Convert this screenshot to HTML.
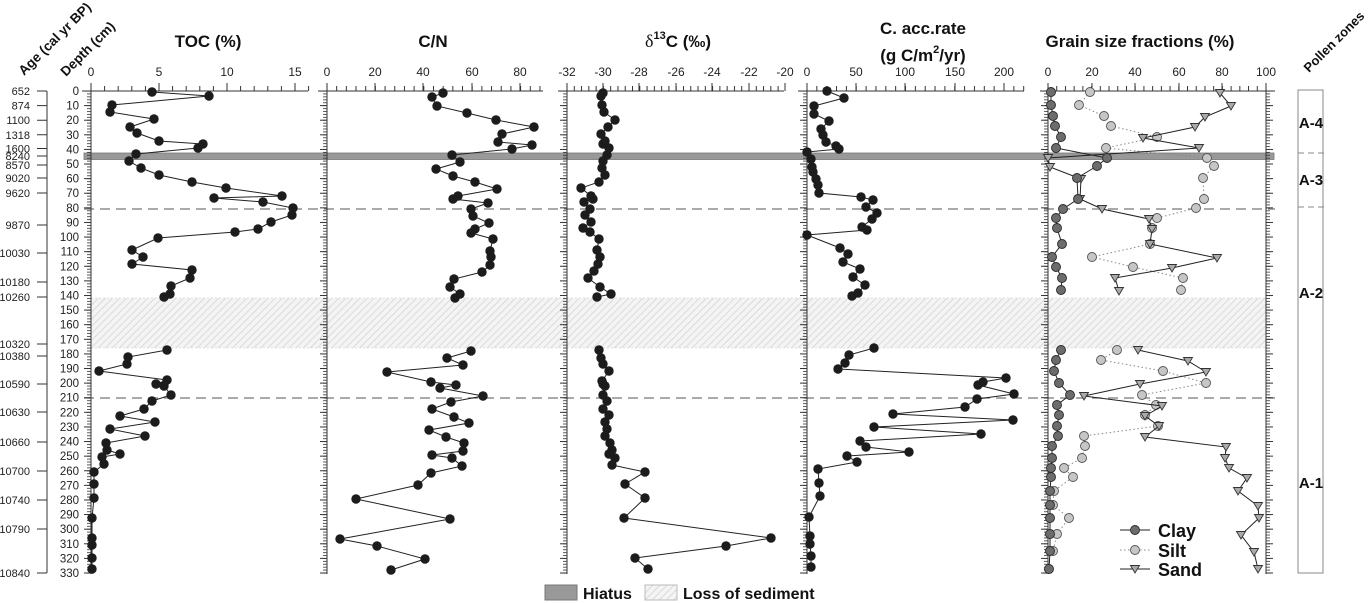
<!DOCTYPE html>
<html><head><meta charset="utf-8"><style>
html,body{margin:0;padding:0;background:#fff;}
svg{display:block;font-family:"Liberation Sans",Arial,sans-serif;}
.tl{font-size:12px;fill:#222;text-anchor:middle}
.dl{font-size:11.5px;fill:#222;text-anchor:end}
.al{font-size:11px;fill:#222;text-anchor:end}
.ti{font-size:17px;font-weight:bold;fill:#111;text-anchor:middle}
.ln{fill:none;stroke:#222;stroke-width:1}
</style></head><body>
<svg width="1371" height="603" viewBox="0 0 1371 603" xmlns="http://www.w3.org/2000/svg">
<defs>
<pattern id="lt" patternUnits="userSpaceOnUse" x="0" y="90.6" width="20" height="2.9212"><rect x="0" y="0" width="20" height="0.8" fill="#333"/></pattern>
<pattern id="ltM" patternUnits="userSpaceOnUse" x="0" y="90.5" width="20" height="14.606"><rect x="0" y="0" width="20" height="1" fill="#333"/></pattern>
<pattern id="hatch" patternUnits="userSpaceOnUse" width="5" height="5" patternTransform="rotate(45)"><rect width="5" height="5" fill="#f4f4f4"/><line x1="0" y1="0" x2="0" y2="5" stroke="#d0d0d0" stroke-width="1.4"/></pattern>
<pattern id="t1m" patternUnits="userSpaceOnUse" x="90.5" y="0" width="13.6" height="10"><rect width="1" height="10" fill="#333"/></pattern>
<pattern id="t2m" patternUnits="userSpaceOnUse" x="326.5" y="0" width="9.68" height="10"><rect width="1" height="10" fill="#333"/></pattern>
<pattern id="t3m" patternUnits="userSpaceOnUse" x="566.5" y="0" width="7.28" height="10"><rect width="1" height="10" fill="#333"/></pattern>
<pattern id="t4m" patternUnits="userSpaceOnUse" x="806.5" y="0" width="9.85" height="10"><rect width="1" height="10" fill="#333"/></pattern>
<pattern id="t5m" patternUnits="userSpaceOnUse" x="1047.5" y="0" width="8.72" height="10"><rect width="1" height="10" fill="#333"/></pattern>
<marker id="dk" markerUnits="userSpaceOnUse" markerWidth="12" markerHeight="12" refX="6" refY="6"><circle cx="6" cy="6" r="4.7" fill="#1c1c1c"/></marker>
<marker id="cl" markerUnits="userSpaceOnUse" markerWidth="12" markerHeight="12" refX="6" refY="6"><circle cx="6" cy="6" r="4.5" fill="#6c6c6c" stroke="#2a2a2a" stroke-width="0.9"/></marker>
<marker id="si" markerUnits="userSpaceOnUse" markerWidth="12" markerHeight="12" refX="6" refY="6"><circle cx="6" cy="6" r="4.5" fill="#c6c6c6" stroke="#555" stroke-width="0.9"/></marker>
<marker id="sa" markerUnits="userSpaceOnUse" markerWidth="12" markerHeight="12" refX="6" refY="6"><path d="M1.5 2.5 L10.5 2.5 L6 10 Z" fill="#aaa" stroke="#333" stroke-width="0.9"/></marker>
</defs>

<rect x="91" y="298" width="1175" height="50" fill="url(#hatch)"/>
<line x1="91" y1="298" x2="1266" y2="298" stroke="#e0e0e0" stroke-dasharray="2 2"/>
<line x1="91" y1="348" x2="1266" y2="348" stroke="#e0e0e0" stroke-dasharray="2 2"/>

<rect x="84" y="153" width="1190" height="6.5" fill="#999" stroke="#777" stroke-width="0.8"/>

<line x1="84" y1="209" x2="1275" y2="209" stroke="#777" stroke-width="1.3" stroke-dasharray="10 6"/>
<line x1="84" y1="398" x2="1275" y2="398" stroke="#777" stroke-width="1.3" stroke-dasharray="10 6"/>

<text class="ti" x="208" y="47">TOC (%)</text>
<text class="ti" x="433" y="47">C/N</text>
<text class="ti" x="678" y="47"><tspan font-family="Liberation Serif,serif" font-weight="normal" font-size="18">δ</tspan><tspan font-size="11" dy="-8">13</tspan><tspan dy="8">C (‰)</tspan></text>
<text class="ti" x="923" y="34">C. acc.rate</text>
<text class="ti" x="923" y="61">(g C/m<tspan font-size="11" dy="-8">2</tspan><tspan dy="8">/yr)</tspan></text>
<text class="ti" x="1140" y="47">Grain size fractions (%)</text>
<text transform="translate(24,76) rotate(-45)" font-size="13.5" font-weight="bold" fill="#111">Age (cal yr BP)</text>
<text transform="translate(66,77) rotate(-45)" font-size="13.5" font-weight="bold" fill="#111">Depth (cm)</text>
<text transform="translate(1309,73) rotate(-45)" font-size="13" font-weight="bold" fill="#111">Pollen zones</text>

<g stroke="#333" stroke-width="1">
<line x1="82" y1="91" x2="308" y2="91"/>
<line x1="318" y1="91" x2="543" y2="91"/>
<line x1="558" y1="91" x2="784" y2="91"/>
<line x1="798" y1="91" x2="1024" y2="91"/>
<line x1="1040" y1="91" x2="1275" y2="91"/>
</g>
<rect x="90.5" y="86" width="219" height="5" fill="url(#t1m)"/>
<rect x="326.5" y="86" width="214" height="5" fill="url(#t2m)"/>
<rect x="566.5" y="86" width="219" height="5" fill="url(#t3m)"/>
<rect x="806.5" y="86" width="218" height="5" fill="url(#t4m)"/>
<rect x="1047.5" y="86" width="220" height="5" fill="url(#t5m)"/>
<g stroke="#333" stroke-width="1">
<path d="M91 83V91M159 83V91M227 83V91M295 83V91"/>
<path d="M327 83V91M375 83V91M423 83V91M472 83V91M520 83V91"/>
<path d="M567 83V91M603 83V91M639 83V91M676 83V91M712 83V91M749 83V91M785 83V91"/>
<path d="M807 83V91M856 83V91M905 83V91M955 83V91M1004 83V91"/>
<path d="M1048 83V91M1092 83V91M1135 83V91M1179 83V91M1222 83V91M1266 83V91"/>
</g>
<g class="tl">
<text x="91" y="76">0</text><text x="159" y="76">5</text><text x="227" y="76">10</text><text x="295" y="76">15</text>
<text x="327" y="76">0</text><text x="375" y="76">20</text><text x="423" y="76">40</text><text x="472" y="76">60</text><text x="520" y="76">80</text>
<text x="567" y="76">-32</text><text x="603" y="76">-30</text><text x="639" y="76">-28</text><text x="676" y="76">-26</text><text x="712" y="76">-24</text><text x="749" y="76">-22</text><text x="785" y="76">-20</text>
<text x="807" y="76">0</text><text x="856" y="76">50</text><text x="905" y="76">100</text><text x="955" y="76">150</text><text x="1004" y="76">200</text>
<text x="1048" y="76">0</text><text x="1092" y="76">20</text><text x="1135" y="76">40</text><text x="1179" y="76">60</text><text x="1222" y="76">80</text><text x="1266" y="76">100</text>
</g>

<g stroke="#333" stroke-width="1">
<line x1="91" y1="91" x2="91" y2="574"/>
<line x1="327" y1="91" x2="327" y2="574"/>
<line x1="567" y1="91" x2="567" y2="574"/>
<line x1="807" y1="91" x2="807" y2="574"/>
<line x1="1048" y1="91" x2="1048" y2="574"/>
<line x1="1266" y1="91" x2="1266" y2="574"/>
<line x1="47" y1="91" x2="47" y2="573"/>
</g>
<rect x="87" y="90.5" width="4" height="484" fill="url(#lt)"/>
<rect x="84" y="90.5" width="7" height="484" fill="url(#ltM)"/>
<rect x="323" y="90.5" width="4" height="484" fill="url(#lt)"/>
<rect x="320" y="90.5" width="7" height="484" fill="url(#ltM)"/>
<rect x="563" y="90.5" width="4" height="484" fill="url(#lt)"/>
<rect x="560" y="90.5" width="7" height="484" fill="url(#ltM)"/>
<rect x="803" y="90.5" width="4" height="484" fill="url(#lt)"/>
<rect x="800" y="90.5" width="7" height="484" fill="url(#ltM)"/>
<rect x="1044" y="90.5" width="4" height="484" fill="url(#lt)"/>
<rect x="1041" y="90.5" width="7" height="484" fill="url(#ltM)"/>
<rect x="1266" y="90.5" width="4" height="484" fill="url(#lt)"/>
<rect x="1266" y="90.5" width="7" height="484" fill="url(#ltM)"/>

<g class="dl">
<text x="79" y="95">0</text><text x="79" y="109.6">10</text><text x="79" y="124.2">20</text><text x="79" y="138.8">30</text><text x="79" y="153.4">40</text><text x="79" y="168">50</text><text x="79" y="182.6">60</text><text x="79" y="197.2">70</text><text x="79" y="211.8">80</text><text x="79" y="226.5">90</text><text x="79" y="241.1">100</text><text x="79" y="255.7">110</text><text x="79" y="270.3">120</text><text x="79" y="284.9">130</text><text x="79" y="299.5">140</text><text x="79" y="314.1">150</text><text x="79" y="328.7">160</text><text x="79" y="343.3">170</text><text x="79" y="357.9">180</text><text x="79" y="372.5">190</text><text x="79" y="387.1">200</text><text x="79" y="401.7">210</text><text x="79" y="416.3">220</text><text x="79" y="431">230</text><text x="79" y="445.5">240</text><text x="79" y="460.2">250</text><text x="79" y="474.8">260</text><text x="79" y="489.4">270</text><text x="79" y="504">280</text><text x="79" y="518.6">290</text><text x="79" y="533.2">300</text><text x="79" y="547.8">310</text><text x="79" y="562.4">320</text><text x="79" y="577">330</text>
</g>
<g class="al">
<text x="30" y="95">652</text><text x="30" y="109.6">874</text><text x="30" y="124.2">1100</text><text x="30" y="138.8">1318</text><text x="30" y="152.5">1600</text><text x="30" y="160">8240</text><text x="30" y="169">8570</text><text x="30" y="182">9020</text><text x="30" y="197">9620</text><text x="30" y="229">9870</text><text x="30" y="257">10030</text><text x="30" y="286">10180</text><text x="30" y="301">10260</text><text x="30" y="348">10320</text><text x="30" y="360">10380</text><text x="30" y="388">10590</text><text x="30" y="416">10630</text><text x="30" y="446">10660</text><text x="30" y="475">10700</text><text x="30" y="504">10740</text><text x="30" y="533">10790</text><text x="30" y="577">10840</text>
</g>
<path stroke="#333" stroke-width="1" d="M37 91H47M37 105.6H47M37 120.2H47M37 134.8H47M37 148.5H47M37 156H47M37 165H47M37 178H47M37 193H47M37 225H47M37 253H47M37 282H47M37 297H47M37 344H47M37 356H47M37 384H47M37 412H47M37 442H47M37 471H47M37 500H47M37 529H47M37 573H47"/>

<polyline class="ln" marker-start="url(#dk)" marker-mid="url(#dk)" marker-end="url(#dk)" points="152,92 209,96 112,105 110,112 154,119 130,127 137,133 159,141 203,144 198,148 136,154 129,161 141,168 159,175 192,182 226,188 282,196 214,198 263,202 293,208 292,215 271,222 258,229 235,232 158,238 132,250 143,257 132,264 192,270 190,278 171,286 170,294 164,297"/>
<polyline class="ln" marker-start="url(#dk)" marker-mid="url(#dk)" marker-end="url(#dk)" points="167,350 128,357 127,364 99,371 167,380 156,384 164,386 171,395 152,401 144,409 120,416 155,422 110,429 145,436 106,443 107,450 120,454 102,457 104,464 94,472 94,484 94,498 92,518 92,538 92,545 92,558 92,569"/>

<polyline class="ln" marker-start="url(#dk)" marker-mid="url(#dk)" marker-end="url(#dk)" points="443,93 432,97 437,106 467,113 496,120 534,127 502,134 498,142 532,145 512,149 452,155 460,162 436,169 453,176 475,182 497,189 458,196 453,199 488,203 471,209 473,216 489,223 475,229 471,233 493,239 490,251 491,257 490,265 482,272 454,279 450,287 460,294 455,298"/>
<polyline class="ln" marker-start="url(#dk)" marker-mid="url(#dk)" marker-end="url(#dk)" points="471,351 447,358 463,365 387,372 431,382 456,385 440,388 483,396 451,402 432,409 454,417 469,423 429,430 446,437 464,443 463,451 432,455 452,458 462,466 431,473 418,485 356,499 450,519 340,539 377,546 425,559 391,570"/>

<polyline class="ln" marker-start="url(#dk)" marker-mid="url(#dk)" marker-end="url(#dk)" points="603,93 601,96 602,105 604,112 615,120 608,127 601,134 605,141 603,144 609,148 607,155 603,161 602,168 605,175 599,182 581,188 591,196 593,199 584,202 590,209 585,215 591,222 583,228 590,232 599,239 597,250 600,257 598,264 594,271 588,278 600,287 611,294 597,297"/>
<polyline class="ln" marker-start="url(#dk)" marker-mid="url(#dk)" marker-end="url(#dk)" points="599,350 601,358 603,364 609,371 602,381 603,384 605,386 603,395 607,401 603,409 609,415 605,422 607,429 605,436 610,443 612,450 609,454 615,458 612,465 645,472 625,484 645,498 624,518 771,538 726,546 635,558 648,569"/>

<polyline class="ln" marker-start="url(#dk)" marker-mid="url(#dk)" marker-end="url(#dk)" points="827,91 844,98 814,106 814,114 829,121 821,129 823,135 826,142 836,146 839,149 807,152 811,159 812,167 813,172 816,179 818,185 819,193 861,197 873,200 866,207 877,213 872,219 862,227 867,230 807,235 840,248 848,254 843,262 860,269 853,277 865,285 858,293 852,296"/>
<polyline class="ln" marker-start="url(#dk)" marker-mid="url(#dk)" marker-end="url(#dk)" points="874,348 849,355 845,363 838,369 1006,378 983,382 978,385 1014,394 977,399 965,407 893,414 1013,420 874,427 981,434 860,441 866,447 909,452 847,456 857,462 818,469 819,483 820,496 809,517 810,536 810,544 811,556 811,567"/>

<polyline fill="none" stroke="#888" stroke-width="1" stroke-dasharray="1.5 2.5" marker-start="url(#si)" marker-mid="url(#si)" marker-end="url(#si)" points="1090,92 1079,105 1104,116 1111,126 1157,137 1106,148 1207,158 1214,166 1203,178 1204,199 1196,208 1157,218 1152,228 1150,244 1092,257 1133,267 1183,278 1181,290"/>
<polyline fill="none" stroke="#888" stroke-width="1" stroke-dasharray="1.5 2.5" marker-start="url(#si)" marker-mid="url(#si)" marker-end="url(#si)" points="1117,350 1101,360 1163,371 1206,383 1142,395 1156,405 1145,415 1158,426 1084,436 1085,446 1082,458 1064,468 1073,477 1054,491 1053,505 1069,518 1057,534 1053,551"/>
<polyline class="ln" marker-start="url(#sa)" marker-mid="url(#sa)" marker-end="url(#sa)" points="1220,93 1231,106 1205,117 1195,127 1143,138 1199,148 1048,158 1050,167 1081,179 1080,199 1102,209 1149,219 1152,229 1150,244 1217,258 1172,268 1115,278 1119,291"/>
<polyline class="ln" marker-start="url(#sa)" marker-mid="url(#sa)" marker-end="url(#sa)" points="1138,350 1188,361 1206,372 1140,384 1084,396 1162,406 1145,416 1159,426 1145,437 1226,447 1225,458 1229,468 1247,478 1238,491 1258,506 1259,518 1241,535 1254,552 1258,569"/>
<polyline class="ln" marker-start="url(#cl)" marker-mid="url(#cl)" marker-end="url(#cl)" points="1051,92 1051,105 1053,116 1055,126 1061,137 1056,148 1107,158 1097,166 1077,178 1078,199 1063,209 1056,218 1057,228 1062,244 1052,257 1056,267 1062,278 1061,290"/>
<polyline class="ln" marker-start="url(#cl)" marker-mid="url(#cl)" marker-end="url(#cl)" points="1061,350 1056,360 1054,371 1059,383 1070,395 1057,405 1059,415 1057,426 1058,436 1052,446 1052,458 1051,468 1051,477 1050,491 1050,505 1050,518 1050,534 1050,551 1049,569"/>

<line x1="1120" y1="530" x2="1150" y2="530" stroke="#222"/>
<circle cx="1135" cy="530" r="4.5" fill="#6c6c6c" stroke="#2a2a2a" stroke-width="0.9"/>
<line x1="1120" y1="550" x2="1150" y2="550" stroke="#888" stroke-dasharray="1.5 2.5"/>
<circle cx="1135" cy="550" r="4.5" fill="#c6c6c6" stroke="#555" stroke-width="0.9"/>
<line x1="1120" y1="569" x2="1150" y2="569" stroke="#222"/>
<path d="M1130.5 565.5 L1139.5 565.5 L1135 573 Z" fill="#aaa" stroke="#333" stroke-width="0.9"/>
<g font-size="18" font-weight="bold" fill="#111">
<text x="1158" y="537">Clay</text>
<text x="1158" y="557">Silt</text>
<text x="1158" y="576">Sand</text>
</g>

<rect x="1298" y="90" width="25" height="483" fill="#fff" stroke="#888" stroke-width="1"/>
<line x1="1298" y1="153" x2="1326" y2="153" stroke="#888" stroke-dasharray="6 4"/>
<line x1="1298" y1="207" x2="1326" y2="207" stroke="#888" stroke-dasharray="6 4"/>
<g font-size="15" font-weight="bold" fill="#111" text-anchor="middle">
<text x="1311" y="128">A-4</text>
<text x="1311" y="185">A-3</text>
<text x="1311" y="298">A-2</text>
<text x="1311" y="488">A-1</text>
</g>

<rect x="545" y="585" width="32" height="15" fill="#999" stroke="#777"/>
<text x="583" y="599" font-size="16" font-weight="bold" fill="#111">Hiatus</text>
<rect x="645" y="585" width="32" height="15" fill="url(#hatch)" stroke="#bbb"/>
<text x="683" y="599" font-size="16" font-weight="bold" fill="#111">Loss of sediment</text>
</svg>
</body></html>
